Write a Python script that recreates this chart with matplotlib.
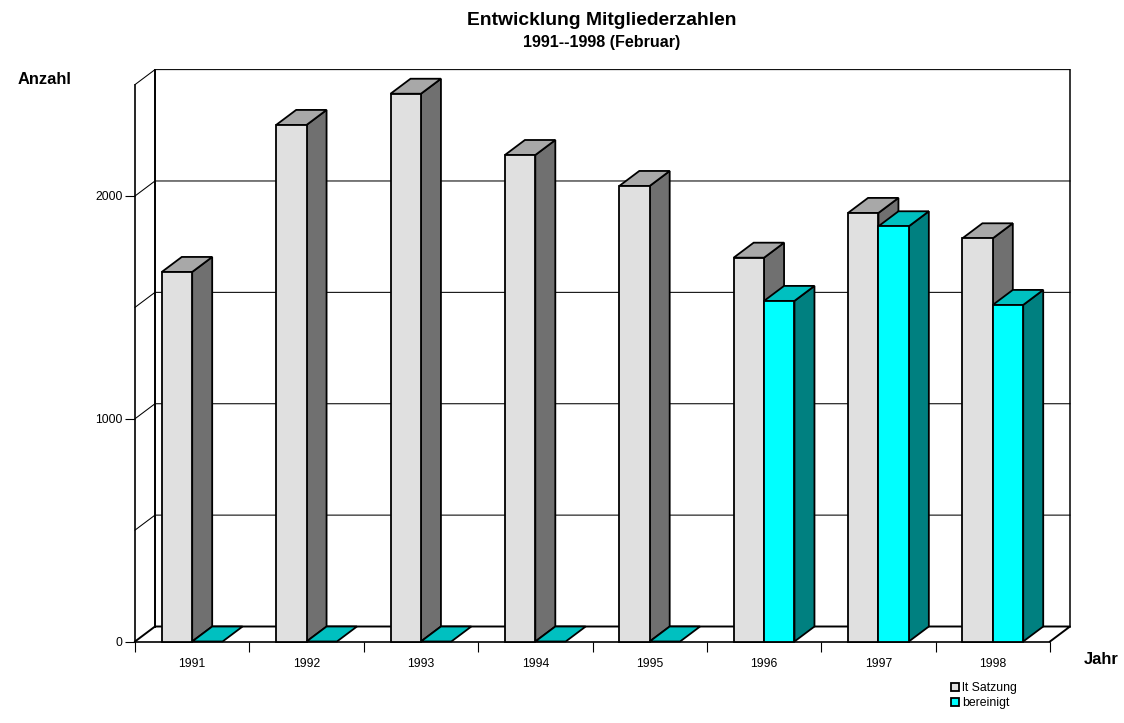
#!/usr/bin/env python3

import matplotlib
matplotlib.use("Agg")
import matplotlib.pyplot as plt
from matplotlib.patches import Polygon, Patch

plt.rcParams['font.family'] = ['Liberation Sans', 'DejaVu Sans']

jahre = ['1991', '1992', '1993', '1994', '1995', '1996', '1997', '1998']
lt_satzung = [1659, 2319, 2459, 2184, 2045, 1723, 1924, 1810]
bereinigt = [0, 0, 0, 0, 0, 1529, 1864, 1511]
yticks = [0, 1000, 2000]
ygrid = [500, 1000, 1500, 2000, 2500]

W, H = 1124, 723
x0, x1 = 135, 1050
y0, y1 = 641.5, 84.6

# depth of the fake 3d box, in data units
dx = 20 / ((x1 - x0) / 8)
dy = 15 / ((y0 - y1) / 2500)
bw = 30.4 / ((x1 - x0) / 8)

fig = plt.figure(figsize=(W / 100, H / 100), dpi=100)
ax = fig.add_axes([x0 / W, 1 - y0 / H, (x1 - x0) / W, (y0 - y1) / H])
ax.set_xlim(-0.5, 7.5)
ax.set_ylim(0, 2500)
ax.patch.set_visible(False)

for s in ['top', 'right']:
    ax.spines[s].set_visible(False)
for s in ['left', 'bottom']:
    ax.spines[s].set_linewidth(1.2)
    ax.spines[s].set_zorder(1)

ax.set_yticks(yticks)
ax.set_yticklabels([str(v) for v in yticks], fontsize=8.8)
ax.tick_params(axis='y', length=7, width=0.8, pad=2)
ax.set_xticks(range(8))
ax.set_xticklabels(jahre, fontsize=8.8)
ax.tick_params(axis='x', which='major', length=0, pad=11.8)
ax.set_xticks([i - 0.5 for i in range(9)], minor=True)
ax.tick_params(axis='x', which='minor', length=7, width=0.8)

xl, xr = -0.5, 7.5
line = dict(color='black', clip_on=False, solid_capstyle='projecting')
# grid on side wall and back wall
for v in ygrid:
    ax.plot([xl, xl + dx, xr + dx], [v, v + dy, v + dy], lw=0.75, zorder=0.5, **line)
# box edges
ax.plot([xl + dx, xl + dx], [dy, 2500 + dy], lw=1.4, zorder=0.6, **line)
ax.plot([xr + dx, xr + dx], [dy, 2500 + dy], lw=1.1, zorder=0.6, **line)
ax.plot([xl, xl + dx, xr + dx, xr], [0, dy, dy, 0], lw=1.4, zorder=0.6, **line)


def bar3d(x, v, front, top, side):
    if v > 0:
        ax.add_patch(Polygon([(x + bw, 0), (x + bw + dx, dy), (x + bw + dx, v + dy), (x + bw, v)],
                             fc=side, ec='black', lw=1.3, clip_on=False, zorder=2))
    ax.add_patch(Polygon([(x, v), (x + dx, v + dy), (x + bw + dx, v + dy), (x + bw, v)],
                         fc=top, ec='black', lw=1.3, clip_on=False, zorder=2))
    if v > 0:
        ax.add_patch(Polygon([(x, 0), (x + bw, 0), (x + bw, v), (x, v)],
                             fc=front, ec='black', lw=1.3, clip_on=False, zorder=2))


for i in range(8):
    bar3d(i - bw, lt_satzung[i], '#E0E0E0', '#A8A8A8', '#707070')
    bar3d(i, bereinigt[i], '#00FFFF', '#00C0C0', '#008080')

fig.text(602 / W, 1 - 20.5 / H, 'Entwicklung Mitgliederzahlen', fontsize=13.9, fontweight='bold',
         ha='center', va='center')
fig.text(602 / W, 1 - 43 / H, '1991--1998 (Februar)', fontsize=11.6, fontweight='bold',
         ha='center', va='center')
fig.text(18 / W, 1 - 80 / H, 'Anzahl', fontsize=11.9, fontweight='bold', ha='left', va='center')
fig.text(1084 / W, 1 - 660 / H, 'Jahr', fontsize=11.9, fontweight='bold', ha='left', va='center')

handles = [Patch(fc='#E0E0E0', ec='black', lw=1.3), Patch(fc='#00FFFF', ec='black', lw=1.3)]
fig.legend(handles, ['lt Satzung', 'bereinigt'], loc='upper left',
           bbox_to_anchor=(951 / W, 1 - 682 / H), bbox_transform=fig.transFigure,
           frameon=False, fontsize=8.8, handlelength=0.65, handleheight=0.65,
           handletextpad=0.28, labelspacing=0.28, borderpad=0, borderaxespad=0)

fig.savefig('out.png', dpi=100)
